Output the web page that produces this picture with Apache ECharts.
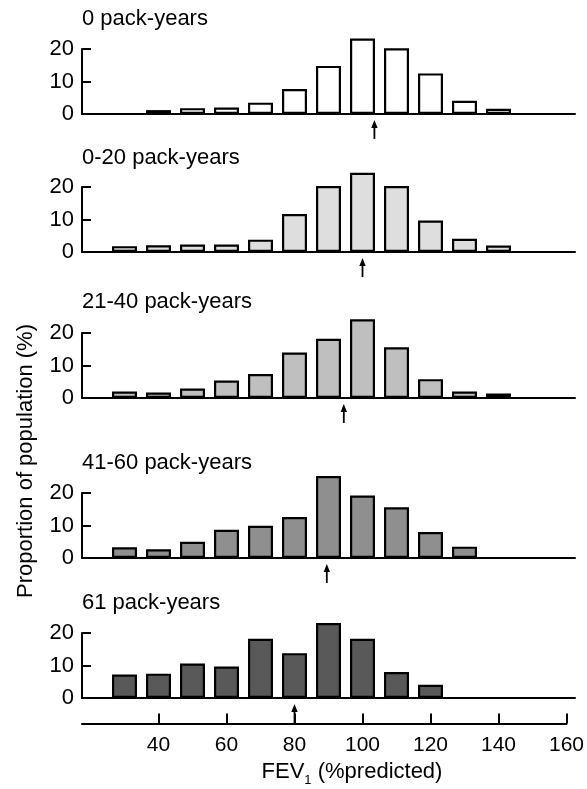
<!DOCTYPE html>
<html>
<head>
<meta charset="utf-8">
<script src="https://cdn.jsdelivr.net/npm/echarts@6/dist/echarts.min.js"></script>
<style>
  html, body { margin: 0; padding: 0; background: #fff; }
  #chart { width: 587px; height: 789px; }
</style>
</head>
<body>
<div id="chart"></div>
<script>
// panel titles
var groups = ['0 pack-years', '0-20 pack-years', '21-40 pack-years', '41-60 pack-years', '61 pack-years'];
// bin centres (FEV1 %predicted) for each panel
var bins0 = [40, 50, 60, 70, 80, 90, 100, 110, 120, 130, 140];
var bins1 = [30, 40, 50, 60, 70, 80, 90, 100, 110, 120, 130, 140];
var bins2 = [30, 40, 50, 60, 70, 80, 90, 100, 110, 120, 130, 140];
var bins3 = [30, 40, 50, 60, 70, 80, 90, 100, 110, 120, 130];
var bins4 = [30, 40, 50, 60, 70, 80, 90, 100, 110, 120];
// proportion of population (%)
var pct0 = [1.2, 1.8, 2.0, 3.5, 7.7, 14.8, 23.2, 20.2, 12.5, 4.1, 1.6];
var pct1 = [1.8, 2.1, 2.3, 2.3, 3.8, 11.7, 20.3, 24.4, 20.3, 9.7, 4.1, 2.0];
var pct2 = [2.0, 1.7, 2.9, 5.4, 7.4, 14.0, 18.2, 24.2, 15.6, 5.8, 2.0, 1.4];
var pct3 = [3.3, 2.7, 5.0, 8.7, 9.9, 12.6, 25.2, 19.2, 15.6, 8.0, 3.5];
var pct4 = [7.2, 7.5, 10.6, 9.7, 18.2, 13.8, 23.1, 18.2, 8.0, 4.1];
// mean FEV1 (arrows)
var means = [103.5, 100, 94.5, 89.5, 80];
// bottom axis ticks
var xTicks = [40, 60, 80, 100, 120, 140, 160];

var bins = [bins0, bins1, bins2, bins3, bins4];
var pcts = [pct0, pct1, pct2, pct3, pct4];
var fills = ['#ffffff', '#dedede', '#bfbfbf', '#8f8f8f', '#595959'];
var tops = [49, 187, 333, 493, 633];
var titleTops = [8, 147, 291, 452, 592];
var FONT = '"Liberation Sans", Arial, sans-serif';

var myChart = echarts.init(document.getElementById('chart'));

var grid = [], xAxis = [], yAxis = [], series = [], title = [];
for (var i = 0; i < 5; i++) {
    grid.push({left: 82, top: tops[i], width: 493, height: 65});
    xAxis.push({
        type: 'value', gridIndex: i, min: 17.5, max: 162.5,
        axisLine: {lineStyle: {color: '#000', width: 2}},
        axisTick: {show: false}, axisLabel: {show: false}, splitLine: {show: false}
    });
    yAxis.push({
        type: 'value', gridIndex: i, min: 0, max: 20, interval: 10,
        axisLine: {show: true, lineStyle: {color: '#000', width: 2}},
        axisTick: {show: true, inside: true, length: 9, lineStyle: {color: '#000', width: 2}},
        axisLabel: {color: '#000', fontSize: 22, fontFamily: FONT, margin: 8},
        splitLine: {show: false}
    });
    var d = bins[i].map(function (b, k) { return [b, pcts[i][k]]; });
    series.push({
        type: 'bar', xAxisIndex: i, yAxisIndex: i, data: d, barWidth: 25, clip: false,
        itemStyle: {color: fills[i], borderColor: '#000', borderWidth: 2.2}
    });
    series.push({
        type: 'custom', xAxisIndex: i, yAxisIndex: i, clip: false, silent: true,
        data: [[means[i], 0]],
        renderItem: function (params, api) {
            var p = api.coord([api.value(0), 0]);
            var x = p[0], y = p[1];
            return {
                type: 'group',
                children: [
                    {type: 'line', shape: {x1: x, y1: y + 12, x2: x, y2: y + 25},
                     style: {stroke: '#000', lineWidth: 1.8}},
                    {type: 'polygon', shape: {points: [[x, y + 6], [x - 3.2, y + 14], [x + 3.2, y + 14]]},
                     style: {fill: '#000'}}
                ]
            };
        }
    });
    title.push({
        text: groups[i], left: 82, top: titleTops[i], padding: 0,
        textStyle: {fontSize: 22, fontWeight: 'normal', color: '#000', fontFamily: FONT}
    });
}

// shared FEV1 axis at the bottom
grid.push({left: 82, top: 700, width: 485, height: 23.5});
xAxis.push({
    type: 'value', gridIndex: 5, min: 17.5, max: 160,
    axisLine: {lineStyle: {color: '#000', width: 2}},
    axisTick: {show: true, inside: true, length: 10, customValues: xTicks, lineStyle: {color: '#000', width: 2}},
    axisLabel: {color: '#000', fontSize: 21, fontFamily: FONT, margin: 11, customValues: xTicks},
    splitLine: {show: false}
});
yAxis.push({type: 'value', gridIndex: 5, show: false});

var option = {
    backgroundColor: '#fff',
    animation: false,
    title: title,
    grid: grid,
    xAxis: xAxis,
    yAxis: yAxis,
    series: series,
    graphic: [
        {
            type: 'text', x: 26, y: 461, rotation: Math.PI / 2,
            style: {text: 'Proportion of population (%)', font: '22px ' + FONT, fill: '#000',
                    textAlign: 'center', textVerticalAlign: 'middle'}
        },
        {
            type: 'text', x: 352, y: 772,
            style: {
                text: 'FEV{sub|1} (%predicted)', font: '22px ' + FONT, fill: '#000',
                textAlign: 'center', textVerticalAlign: 'middle', lineHeight: 30,
                rich: {sub: {fontSize: 13, fontFamily: FONT, verticalAlign: 'bottom', lineHeight: 24}}
            }
        }
    ]
};
myChart.setOption(option);
</script>
</body>
</html>
